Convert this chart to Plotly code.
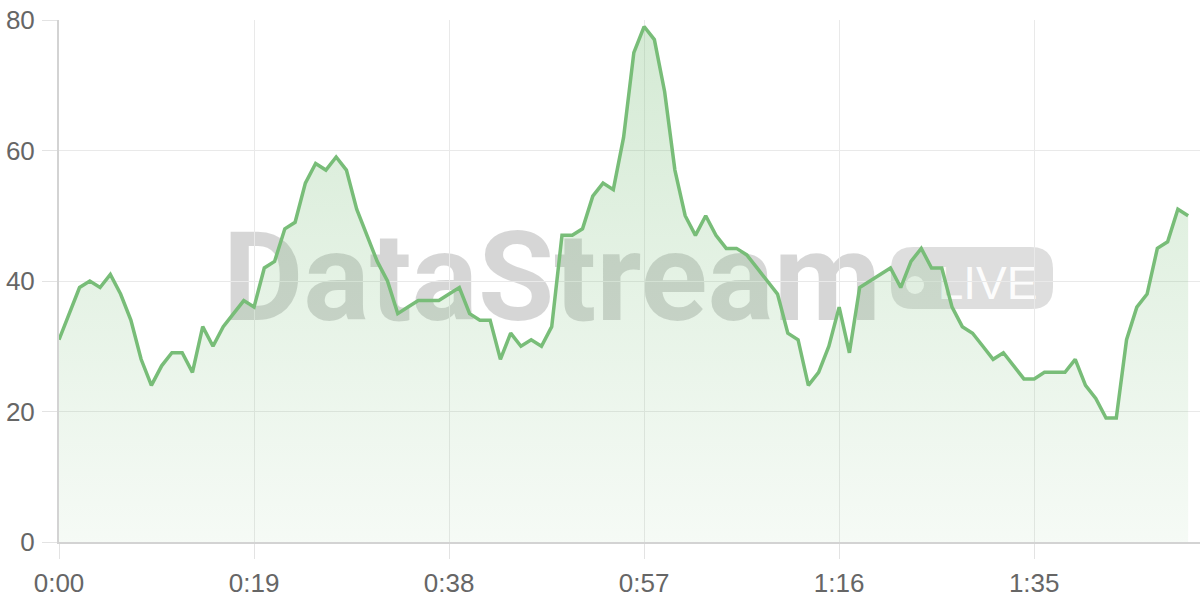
import plotly.graph_objects as go

# Data: one sample per second
seconds = list(range(111))
values = [31, 35, 39, 40, 39, 41, 38, 34, 28, 24,
          27, 29, 29, 26, 33, 30, 33, 35, 37, 36,
          42, 43, 48, 49, 55, 58, 57, 59, 57, 51,
          47, 43, 40, 35, 36, 37, 37, 37, 38, 39,
          35, 34, 34, 28, 32, 30, 31, 30, 33, 47,
          47, 48, 53, 55, 54, 62, 75, 79, 77, 69,
          57, 50, 47, 50, 47, 45, 45, 44, 42, 40,
          38, 32, 31, 24, 26, 30, 36, 29, 39, 40,
          41, 42, 39, 43, 45, 42, 42, 36, 33, 32,
          30, 28, 29, 27, 25, 25, 26, 26, 26, 28,
          24, 22, 19, 19, 31, 36, 38, 45, 46, 51, 50]
tick_vals = [0, 19, 38, 57, 76, 95]
tick_text = ["0:00", "0:19", "0:38", "0:57", "1:16", "1:35"]
y_ticks = [0, 20, 40, 60, 80]

LINE = "rgb(120,189,120)"

fig = go.Figure()
fig.add_trace(go.Scatter(
    x=seconds, y=values, mode="lines",
    line=dict(color=LINE, width=3.5),
    fill="tozeroy",
    fillgradient=dict(type="vertical", start=0, stop=80,
                      colorscale=[[0, "rgba(120,189,120,0.07)"],
                                  [1, "rgba(120,189,120,0.32)"]]),
    hoverinfo="skip", showlegend=False,
))

# plot area geometry for placing the watermark (pixels -> paper)
L, R, T, B = 59, 1200, 20, 542
def px(x):
    return (x - L) / (R - L)
def py(y):
    return (B - y) / (B - T)

def rounded_rect(x0, y0, x1, y1, r):
    rx = r / (R - L)
    ry = r / (B - T)
    a, b, c, d = px(x0), py(y1), px(x1), py(y0)
    return (f"M {a+rx},{b} L {c-rx},{b} Q {c},{b} {c},{b+ry} "
            f"L {c},{d-ry} Q {c},{d} {c-rx},{d} L {a+rx},{d} "
            f"Q {a},{d} {a},{d-ry} L {a},{b+ry} Q {a},{b} {a+rx},{b} Z")

shapes = [
    # watermark text
    dict(type="rect", xref="paper", yref="paper", layer="below",
         x0=px(214), x1=px(890), y0=py(320), y1=py(216),
         line=dict(width=0), fillcolor="rgba(0,0,0,0)",
         label=dict(text="<b>DataStream</b>", textposition="middle center",
                    font=dict(family="Roboto", size=124,
                              color="rgba(0,0,0,0.16)"))),
    # LIVE badge
    dict(type="path", xref="paper", yref="paper", layer="below",
         path=rounded_rect(891, 247, 1053, 309, 22),
         line=dict(width=0), fillcolor="rgba(0,0,0,0.13)"),
    dict(type="circle", xref="paper", yref="paper", layer="below",
         x0=px(906), x1=px(924), y0=py(294), y1=py(276),
         line=dict(width=0), fillcolor="rgba(255,255,255,0.85)"),
    dict(type="rect", xref="paper", yref="paper", layer="below",
         x0=px(930), x1=px(1045), y0=py(306), y1=py(252),
         line=dict(width=0), fillcolor="rgba(0,0,0,0)",
         label=dict(text="LIVE", textposition="middle center",
                    font=dict(family="Liberation Sans", size=46,
                              color="rgba(255,255,255,0.95)"))),
]

axis_common = dict(
    showgrid=True, gridcolor="#e9e9e9", gridwidth=1,
    ticks="outside", ticklen=15, tickcolor="#e3e3e3", tickwidth=1,
    showline=True, linecolor="#d3d3d3", linewidth=2,
    zeroline=False, fixedrange=True, automargin=False,
)

fig.update_layout(
    width=1200, height=600,
    margin=dict(l=L, r=1200 - R, t=T, b=600 - B, autoexpand=False),
    paper_bgcolor="white", plot_bgcolor="white",
    shapes=shapes,
    font=dict(family="Liberation Sans", size=26, color="#666666"),
    xaxis=dict(range=[0, (R - L) / 10.265], tickvals=tick_vals, ticktext=tick_text,
               ticklabelstandoff=2, **axis_common),
    yaxis=dict(range=[0, 80], tickvals=y_ticks, ticklabelstandoff=2,
               **axis_common),
)

fig.write_html("out.html", config={"displayModeBar": False},
               post_script="document.body.style.margin='0';")
